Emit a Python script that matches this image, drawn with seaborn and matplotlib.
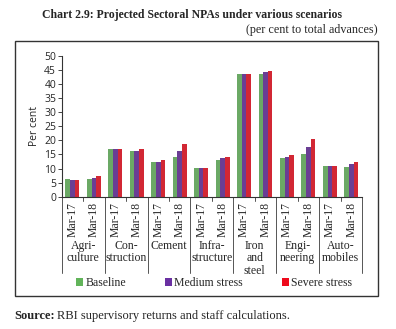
import matplotlib
matplotlib.use("Agg")
import matplotlib.pyplot as plt
import matplotlib.transforms as mtransforms
from matplotlib.patches import Rectangle, Patch
import seaborn as sns
import pandas as pd

sectors = ["Agri-\nculture", "Con-\nstruction", "Cement", "Infra-\nstructure",
           "Iron\nand\nsteel", "Engi-\nneering", "Auto-\nmobiles"]
periods = ["Mar-17", "Mar-18"]
scenarios = ["Baseline", "Medium stress", "Severe stress"]
baseline = [6.3, 6.4, 16.8, 16.1, 12.4, 14.1, 10.2, 12.9, 43.7, 43.7, 13.9, 15.2, 11.0, 10.7]
medium   = [5.8, 6.7, 16.8, 16.4, 12.5, 16.4, 10.2, 13.6, 43.7, 44.3, 14.2, 17.8, 11.0, 11.5]
severe   = [5.9, 7.3, 16.8, 16.9, 12.9, 18.8, 10.2, 14.1, 43.7, 44.8, 14.7, 20.5, 11.0, 12.4]
colors = ["#62b45a", "#6a30a2", "#ee0a1c"]

slots = [f"{s}|{p}" for s in sectors for p in periods]
rows = []
for sc, vals in zip(scenarios, [baseline, medium, severe]):
    for sl, v in zip(slots, vals):
        rows.append({"slot": sl, "scenario": sc, "value": v})
df = pd.DataFrame(rows)

sns.set_style("white")
plt.rcParams["font.family"] = ["Liberation Serif", "DejaVu Serif"]

fig = plt.figure(figsize=(3.96, 3.29), dpi=100)
W, H = 396, 329
def fx(px): return px / W
def fy(py): return 1 - py / H

ax = fig.add_axes([fx(61.7), fy(196.7), fx(362) - fx(61.7), fy(56) - fy(196.7)])
sns.barplot(data=df, x="slot", y="value", hue="scenario", order=slots,
            hue_order=scenarios, palette=colors, width=0.65, linewidth=0,
            ax=ax, legend=False)

ax.set_ylim(0, 50)
ax.set_xlim(-0.5, len(slots) - 0.5)
ax.set_yticks(range(0, 51, 5))
ax.tick_params(axis="y", labelsize=7.5, length=3, width=0.6, pad=1, direction="out", left=True)
for lbl in ax.get_yticklabels():
    lbl.set_family(["Open Sans", "DejaVu Sans"])
ax.set_ylabel("Per cent", fontsize=7.5, labelpad=3, family=["Open Sans", "DejaVu Sans"])
ax.set_xlabel("")
ax.set_xticks(range(len(slots)))
ax.set_xticklabels([p for s in sectors for p in periods], rotation=90, fontsize=8.5)
ax.tick_params(axis="x", length=0, pad=4)
for sp in ["top", "right"]:
    ax.spines[sp].set_visible(False)
for sp in ["left", "bottom"]:
    ax.spines[sp].set_color("#333333")
    ax.spines[sp].set_linewidth(0.8)

trans = mtransforms.blended_transform_factory(ax.transData, ax.transAxes)
px_per_unit = 140.7
for i in range(len(slots) + 1):
    x = i - 0.5
    if i % 2 == 0:
        ax.plot([x, x], [0, -(273 - 196.7) / px_per_unit], transform=trans,
                color="#555555", lw=0.7, clip_on=False)
    else:
        ax.plot([x, x], [0, -4 / px_per_unit], transform=trans,
                color="#555555", lw=0.7, clip_on=False)

for k, s in enumerate(sectors):
    ax.text(2 * k + 0.5, -(240 - 196.7) / px_per_unit, s, transform=trans,
            ha="center", va="top", fontsize=8.5, linespacing=1.05)

handles = [Patch(facecolor=c, edgecolor="none") for c in colors]
fig.legend(handles, scenarios, loc="center", bbox_to_anchor=(fx(214), fy(283)),
           ncol=3, frameon=False, fontsize=8.5, handlelength=0.6, handleheight=0.6,
           handletextpad=0.2, columnspacing=3.3, borderpad=0)

fig.patches.append(Rectangle((fx(15), fy(296)), fx(378) - fx(15), fy(41) - fy(296),
                             transform=fig.transFigure, fill=False,
                             edgecolor="#333333", lw=1.0))

fig.text(fx(192), fy(15), "Chart 2.9: Projected Sectoral NPAs under various scenarios",
         ha="center", va="center", fontsize=8.5, fontweight="bold")
fig.text(fx(378), fy(30), "(per cent to total advances)", ha="right", va="center", fontsize=8.7)
t1 = fig.text(fx(14), fy(316), "Source:", ha="left", va="center", fontsize=9, fontweight="bold")
fig.canvas.draw()
bb = t1.get_window_extent()
fig.text(bb.x1 / W + 0.006, fy(316), "RBI supervisory returns and staff calculations.",
         ha="left", va="center", fontsize=9)

fig.savefig("out.png", dpi=100)
